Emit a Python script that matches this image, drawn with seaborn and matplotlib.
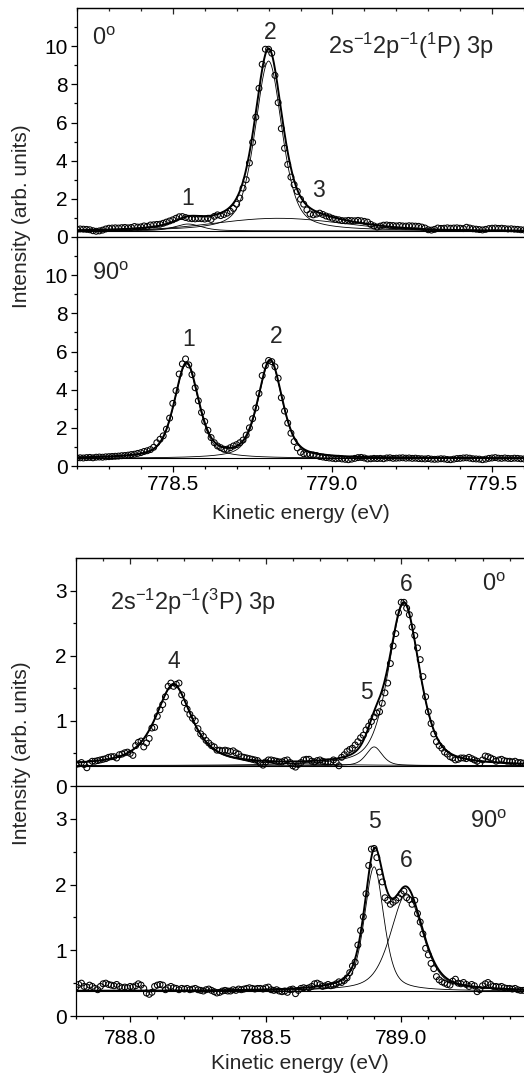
import matplotlib
matplotlib.use("Agg")
import matplotlib.pyplot as plt
import numpy as np
import seaborn as sns
from matplotlib.ticker import MultipleLocator, FixedLocator, NullFormatter

# ---- measured spectra (0.01 eV steps) ----
e0_top = 778.20
e0_bot = 787.80
step = 0.01

p1_counts = [  # 1P, 0 deg
    0.40, 0.42, 0.41, 0.40, 0.38, 0.33, 0.30, 0.32, 0.36, 0.42,
    0.46, 0.47, 0.48, 0.47, 0.49, 0.50, 0.48, 0.50, 0.55, 0.52,
    0.53, 0.58, 0.56, 0.63, 0.64, 0.66, 0.67, 0.72, 0.78, 0.84,
    0.90, 0.98, 1.06, 1.07, 1.02, 0.98, 0.96, 0.95, 0.97, 0.96,
    0.94, 0.98, 0.92, 1.08, 1.16, 1.12, 1.18, 1.25, 1.35, 1.50,
    1.72, 2.04, 2.56, 3.00, 3.88, 4.96, 6.28, 7.79, 9.05, 9.84,
    9.84, 9.63, 8.47, 7.04, 5.68, 4.65, 3.80, 3.14, 2.74, 2.39,
    1.98, 1.72, 1.42, 1.21, 1.16, 1.20, 1.25, 1.18, 1.10, 1.05,
    0.98, 0.93, 0.90, 0.86, 0.85, 0.87, 0.86, 0.85, 0.87, 0.85,
    0.82, 0.78, 0.66, 0.58, 0.52, 0.57, 0.62, 0.63, 0.61, 0.60,
    0.58, 0.60, 0.58, 0.57, 0.59, 0.58, 0.57, 0.56, 0.52, 0.47,
    0.38, 0.36, 0.40, 0.47, 0.45, 0.46, 0.48, 0.46, 0.47, 0.48,
    0.46, 0.44, 0.51, 0.47, 0.43, 0.41, 0.39, 0.37, 0.40, 0.44,
    0.46, 0.47, 0.45, 0.46, 0.44, 0.42, 0.43, 0.41, 0.40, 0.38,
    0.37,
]
p2_counts = [  # 1P, 90 deg
    0.42, 0.43, 0.42, 0.44, 0.45, 0.43, 0.46, 0.47, 0.46, 0.48,
    0.49, 0.50, 0.51, 0.52, 0.54, 0.55, 0.57, 0.60, 0.62, 0.66,
    0.70, 0.76, 0.80, 0.86, 0.98, 1.22, 1.40, 1.58, 1.93, 2.51,
    3.28, 3.95, 4.82, 5.35, 5.61, 5.30, 4.79, 4.10, 3.42, 2.81,
    2.33, 1.87, 1.49, 1.22, 1.05, 0.96, 0.88, 0.88, 0.96, 1.05,
    1.12, 1.22, 1.36, 1.62, 2.00, 2.48, 3.04, 3.80, 4.74, 5.26,
    5.53, 5.47, 5.20, 4.60, 3.58, 2.88, 2.25, 1.72, 1.28, 0.95,
    0.72, 0.64, 0.62, 0.60, 0.58, 0.55, 0.50, 0.47, 0.44, 0.42,
    0.40, 0.38, 0.40, 0.37, 0.35, 0.33, 0.36, 0.40, 0.44, 0.45,
    0.42, 0.37, 0.38, 0.40, 0.39, 0.40, 0.38, 0.42, 0.43, 0.40,
    0.41, 0.42, 0.43, 0.41, 0.42, 0.40, 0.41, 0.39, 0.38, 0.37,
    0.39, 0.36, 0.35, 0.36, 0.38, 0.37, 0.34, 0.33, 0.36, 0.39,
    0.40, 0.42, 0.43, 0.41, 0.38, 0.37, 0.36, 0.33, 0.36, 0.40,
    0.42, 0.44, 0.41, 0.40, 0.42, 0.40, 0.39, 0.41, 0.40, 0.38,
    0.37,
]
p3_counts = [  # 3P, 0 deg
    0.33, 0.34, 0.36, 0.33, 0.28, 0.35, 0.38, 0.38, 0.39, 0.40,
    0.41, 0.42, 0.44, 0.45, 0.45, 0.43, 0.48, 0.49, 0.51, 0.52,
    0.50, 0.47, 0.62, 0.67, 0.69, 0.60, 0.66, 0.73, 0.89, 0.90,
    1.07, 1.17, 1.25, 1.37, 1.53, 1.58, 1.53, 1.56, 1.58, 1.40,
    1.28, 1.18, 1.10, 1.04, 1.00, 0.88, 0.80, 0.76, 0.70, 0.66,
    0.62, 0.60, 0.55, 0.55, 0.54, 0.55, 0.54, 0.53, 0.54, 0.51,
    0.49, 0.45, 0.44, 0.43, 0.42, 0.41, 0.40, 0.39, 0.35, 0.32,
    0.37, 0.40, 0.40, 0.39, 0.38, 0.37, 0.37, 0.39, 0.40, 0.36,
    0.31, 0.29, 0.33, 0.36, 0.40, 0.41, 0.41, 0.38, 0.37, 0.39,
    0.40, 0.38, 0.37, 0.37, 0.37, 0.40, 0.36, 0.31, 0.44, 0.48,
    0.53, 0.56, 0.58, 0.63, 0.68, 0.74, 0.78, 0.86, 0.92, 0.99,
    1.06, 1.12, 1.14, 1.27, 1.43, 1.58, 1.88, 2.15, 2.34, 2.66,
    2.82, 2.82, 2.73, 2.63, 2.44, 2.31, 2.12, 1.94, 1.68, 1.37,
    1.14, 0.96, 0.80, 0.68, 0.62, 0.58, 0.52, 0.49, 0.45, 0.43,
    0.40, 0.41, 0.43, 0.43, 0.42, 0.44, 0.42, 0.40, 0.38, 0.35,
    0.40, 0.46, 0.45, 0.43, 0.41, 0.38, 0.40, 0.41, 0.39, 0.38,
    0.38, 0.37, 0.38, 0.36, 0.36, 0.35,
]
p4_counts = [  # 3P, 90 deg
    0.44, 0.48, 0.50, 0.45, 0.44, 0.47, 0.45, 0.42, 0.40, 0.45,
    0.49, 0.50, 0.48, 0.47, 0.46, 0.48, 0.45, 0.43, 0.44, 0.43,
    0.45, 0.44, 0.46, 0.49, 0.47, 0.42, 0.35, 0.33, 0.36, 0.45,
    0.47, 0.48, 0.47, 0.40, 0.43, 0.45, 0.43, 0.42, 0.40, 0.42,
    0.41, 0.42, 0.40, 0.41, 0.42, 0.40, 0.39, 0.38, 0.40, 0.41,
    0.39, 0.37, 0.35, 0.36, 0.38, 0.39, 0.38, 0.38, 0.40, 0.39,
    0.41, 0.40, 0.41, 0.42, 0.43, 0.42, 0.41, 0.42, 0.42, 0.41,
    0.43, 0.44, 0.40, 0.39, 0.40, 0.38, 0.37, 0.38, 0.36, 0.40,
    0.41, 0.34, 0.39, 0.42, 0.43, 0.42, 0.43, 0.45, 0.49, 0.50,
    0.48, 0.45, 0.46, 0.48, 0.46, 0.47, 0.49, 0.52, 0.51, 0.54,
    0.58, 0.66, 0.76, 0.82, 1.08, 1.30, 1.51, 1.86, 2.29, 2.54,
    2.55, 2.41, 2.19, 2.04, 1.80, 1.76, 1.70, 1.73, 1.76, 1.80,
    1.86, 1.90, 1.80, 1.77, 1.70, 1.76, 1.56, 1.43, 1.25, 1.03,
    0.93, 0.80, 0.72, 0.60, 0.55, 0.52, 0.50, 0.48, 0.47, 0.53,
    0.56, 0.50, 0.49, 0.51, 0.48, 0.45, 0.48, 0.46, 0.37, 0.40,
    0.46, 0.49, 0.51, 0.48, 0.45, 0.45, 0.44, 0.45, 0.43, 0.42,
    0.42, 0.41, 0.42, 0.40, 0.39, 0.39,
]

# ---- fitted components: background, centre, height, FWHM, Lorentz fraction ----
p1_bg = 0.32
p1_centre = [778.548, 778.800, 778.830]
p1_height = [0.36, 8.90, 0.66]
p1_fwhm = [0.10, 0.10, 0.47]
p1_eta = [0.5, 0.5, 0.0]

p2_bg = 0.40
p2_centre = [778.543, 778.805]
p2_height = [4.95, 5.10]
p2_fwhm = [0.09, 0.09]
p2_eta = [0.5, 0.5]

p3_bg = 0.31
p3_centre = [788.160, 788.900, 789.010]
p3_height = [1.24, 0.29, 2.49]
p3_fwhm = [0.16, 0.07, 0.135]
p3_eta = [0.8, 0.5, 0.5]

p4_bg = 0.38
p4_centre = [788.900, 789.020]
p4_height = [1.89, 1.48]
p4_fwhm = [0.085, 0.14]
p4_eta = [0.5, 0.5]

top_xlim = (778.2, 779.6)
bot_xlim = (787.8, 789.453)
top_yticks = [0, 2, 4, 6, 8, 10]
bot_yticks = [0, 1, 2, 3]

cfg_1p = r"2s$^{\mathrm{-1}}$2p$^{\mathrm{-1}}$($^{\mathrm{1}}$P) 3p"
cfg_3p = r"2s$^{\mathrm{-1}}$2p$^{\mathrm{-1}}$($^{\mathrm{3}}$P) 3p"

NUM_FS = 16.5
ANG_FS = 17
CFG_FS = 17


def pvoigt(x, c, h, w, eta):
    d = (x - c) / w
    lor = 1.0 / (1.0 + 4.0 * d ** 2)
    gau = np.exp(-4.0 * np.log(2) * d ** 2)
    return h * (eta * lor + (1 - eta) * gau)


def draw_panel(ax, e0, counts, bg, centres, heights, fwhms, etas, xlim, yticks, ymax, ystep):
    energy = e0 + step * np.arange(len(counts))
    sns.scatterplot(x=energy, y=counts, ax=ax, marker="o", s=18,
                    facecolor="none", edgecolor="black", linewidth=0.75,
                    legend=False, zorder=2)
    grid = np.linspace(xlim[0], xlim[1], 1200)
    comps = [pvoigt(grid, c, h, w, k) for c, h, w, k in zip(centres, heights, fwhms, etas)]
    ax.axhline(bg, color="black", lw=0.8, zorder=3)
    for comp in comps:
        sns.lineplot(x=grid, y=bg + comp, ax=ax, color="black", lw=0.6,
                     estimator=None, zorder=3)
    sns.lineplot(x=grid, y=bg + np.sum(comps, axis=0), ax=ax, color="black",
                 lw=1.4, estimator=None, zorder=4)

    ax.set_xlim(*xlim)
    ax.set_ylim(0, ymax)
    ax.xaxis.set_major_locator(MultipleLocator(0.5))
    ax.xaxis.set_minor_locator(MultipleLocator(0.1))
    ax.yaxis.set_major_locator(FixedLocator(yticks))
    minors = np.arange(ystep / 2, ymax, ystep)
    ax.yaxis.set_minor_locator(FixedLocator(minors))
    ax.xaxis.set_major_formatter(matplotlib.ticker.FormatStrFormatter("%.1f"))
    ax.tick_params(axis="both", which="both", direction="out", top=False,
                   right=False, labelsize=15, width=0.9, pad=2.5, colors="black")
    ax.tick_params(axis="both", which="major", length=4.3)
    ax.tick_params(axis="both", which="minor", length=2.2)
    ax.spines["right"].set_visible(False)
    for s in ("left", "top", "bottom"):
        ax.spines[s].set_linewidth(0.9)
        ax.spines[s].set_color("black")
    ax.set_xlabel("")
    ax.set_ylabel("")


def top_ticks_in(ax):
    sec = ax.secondary_xaxis("top")
    sec.xaxis.set_major_locator(MultipleLocator(0.5))
    sec.xaxis.set_minor_locator(MultipleLocator(0.1))
    sec.xaxis.set_major_formatter(NullFormatter())
    sec.tick_params(axis="x", which="major", direction="in", length=4.3, width=0.9)
    sec.tick_params(axis="x", which="minor", direction="in", length=2.2, width=0.9)
    sec.spines["top"].set_linewidth(0.9)


sns.set_style("ticks")
plt.rcParams["font.family"] = ["Liberation Sans", "DejaVu Sans"]
plt.rcParams["mathtext.fontset"] = "custom"
plt.rcParams["mathtext.rm"] = "Liberation Sans"
plt.rcParams["mathtext.it"] = "Liberation Sans:italic"
plt.rcParams["mathtext.bf"] = "Liberation Sans:bold"

W, H = 524, 1078
fig = plt.figure(figsize=(W / 100, H / 100), dpi=100)
ax1 = fig.add_axes([77 / W, 1 - 237 / H, 447 / W, 229 / H])
ax2 = fig.add_axes([77 / W, 1 - 466 / H, 447 / W, 229 / H])
ax3 = fig.add_axes([76 / W, 1 - 786 / H, 448 / W, 228 / H])
ax4 = fig.add_axes([76 / W, 1 - 1016 / H, 448 / W, 230 / H])

draw_panel(ax1, e0_top, p1_counts, p1_bg, p1_centre, p1_height, p1_fwhm, p1_eta,
           top_xlim, top_yticks, 12, 2)
draw_panel(ax2, e0_top, p2_counts, p2_bg, p2_centre, p2_height, p2_fwhm, p2_eta,
           top_xlim, top_yticks, 12, 2)
draw_panel(ax3, e0_bot, p3_counts, p3_bg, p3_centre, p3_height, p3_fwhm, p3_eta,
           bot_xlim, bot_yticks, 3.5, 1)
draw_panel(ax4, e0_bot, p4_counts, p4_bg, p4_centre, p4_height, p4_fwhm, p4_eta,
           bot_xlim, bot_yticks, 3.5, 1)

ax1.tick_params(labelbottom=False)
ax3.tick_params(labelbottom=False)
ax4.tick_params(axis="x", pad=5)
top_ticks_in(ax1)
top_ticks_in(ax3)

# annotations
ax1.text(778.247, 10.4, r"0$^{\mathrm{o}}$", fontsize=ANG_FS, ha="left", va="center")
ax1.text(778.805, 10.74, "2", fontsize=NUM_FS, ha="center", va="center")
ax1.text(778.987, 9.58, cfg_1p, fontsize=CFG_FS, ha="left", va="baseline")
ax1.text(778.548, 2.0, "1", fontsize=NUM_FS, ha="center", va="center")
ax1.text(778.955, 2.43, "3", fontsize=NUM_FS, ha="center", va="center")

ax2.text(778.247, 10.06, r"90$^{\mathrm{o}}$", fontsize=ANG_FS, ha="left", va="center")
ax2.text(778.549, 6.65, "1", fontsize=NUM_FS, ha="center", va="center")
ax2.text(778.824, 6.77, "2", fontsize=NUM_FS, ha="center", va="center")

ax3.text(787.925, 2.71, cfg_3p, fontsize=CFG_FS, ha="left", va="baseline")
ax3.text(788.162, 1.91, "4", fontsize=NUM_FS, ha="center", va="center")
ax3.text(789.018, 3.09, "6", fontsize=NUM_FS, ha="center", va="center")
ax3.text(789.297, 3.09, r"0$^{\mathrm{o}}$", fontsize=ANG_FS, ha="left", va="center")
ax3.text(788.873, 1.43, "5", fontsize=NUM_FS, ha="center", va="center")

ax4.text(788.900, 2.96, "5", fontsize=NUM_FS, ha="center", va="center")
ax4.text(789.254, 2.96, r"90$^{\mathrm{o}}$", fontsize=ANG_FS, ha="left", va="center")
ax4.text(789.020, 2.36, "6", fontsize=NUM_FS, ha="center", va="center")

ax2.set_xlabel("Kinetic energy (eV)", fontsize=15, labelpad=7)
ax4.set_xlabel("Kinetic energy (eV)", fontsize=15, labelpad=4.5)
fig.text(22 / W, 1 - 216 / H, "Intensity (arb. units)", rotation=90,
         fontsize=15, ha="center", va="center")
fig.text(22 / W, 1 - 753 / H, "Intensity (arb. units)", rotation=90,
         fontsize=15, ha="center", va="center")

fig.savefig("out.png", dpi=100)
